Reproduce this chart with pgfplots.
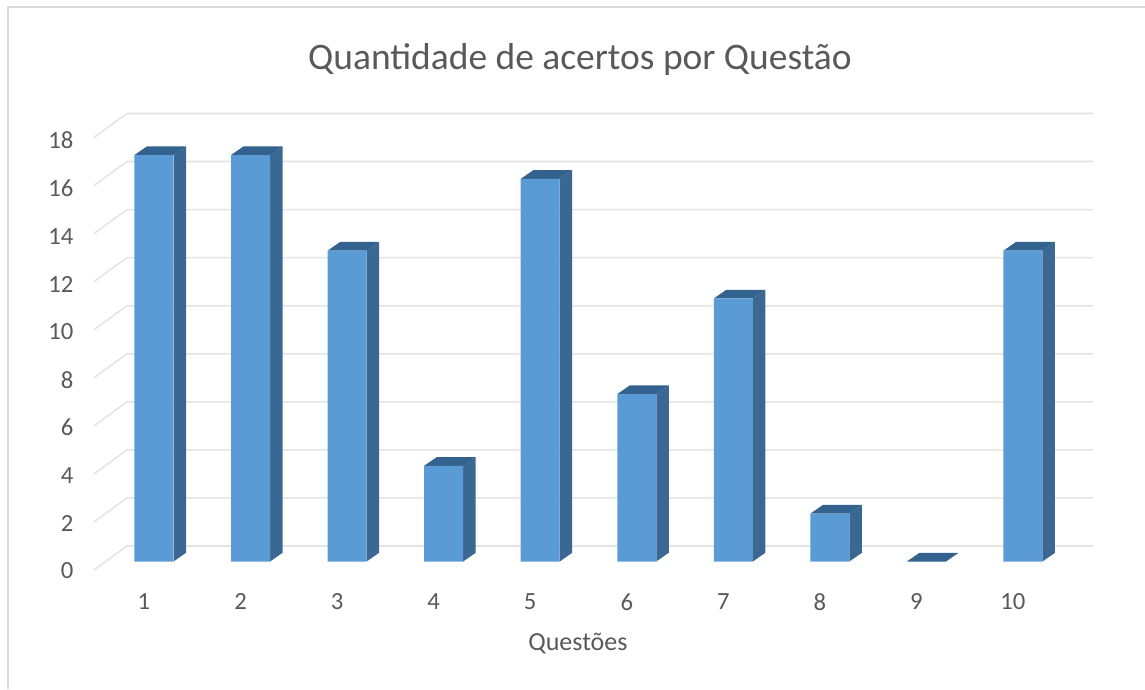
\documentclass[border=0pt]{standalone}
\usepackage{fontspec}
\setmainfont{Carlito}
\usepackage{pgfplots}
\usepackage{pgfplotstable}
\pgfplotsset{compat=1.18}
\definecolor{front}{HTML}{5B9BD5}
\definecolor{sideface}{HTML}{3A6892}
\definecolor{topface}{HTML}{34628F}
\definecolor{gridc}{HTML}{E4E4E4}
\definecolor{textc}{HTML}{595959}
\definecolor{framec}{HTML}{D9D9D9}
\pgfplotstableread{
q v
1 17
2 17
3 13
4 4
5 16
6 7
7 11
8 2
9 0
10 13
}\scores
% depth of a 3-D bar: side face and top face of the bar at x=#1 with value #2
\newcommand\BarDepth[2]{%
  \pgfmathsetmacro\xa{#1+0.202}%
  \pgfmathsetmacro\xb{#1+0.202+0.1295}%
  \pgfmathsetmacro\xc{#1-0.202}%
  \pgfmathsetmacro\xd{#1-0.202+0.1295}%
  \pgfmathsetmacro\yb{0.364}%
  \pgfmathsetmacro\yt{#2+0.364}%
  \edef\temp{\noexpand\addplot[fill=sideface,draw=none,forget plot] coordinates {(\xa,0)(\xb,\yb)(\xb,\yt)(\xa,#2)};
    \noexpand\addplot[fill=topface,draw=none,forget plot] coordinates {(\xc,#2)(\xa,#2)(\xb,\yt)(\xd,\yt)};}%
  \temp
}
% wall gridline for the tick value #1
\newcommand\WallLine[1]{%
  \pgfmathsetmacro\yf{1.005*#1-0.3555}%
  \pgfmathsetmacro\yk{1.005*#1+0.648}%
  \edef\temp{\noexpand\addplot[gridc,line width=1.2pt,forget plot] coordinates {(0.3786,\yf)(0.7204,\yk)(10.7255,\yk)};}%
  \temp
}
\begin{document}
\begin{tikzpicture}[x=0.75pt,y=0.75pt]
\path[use as bounding box] (0,0) rectangle (1145,689);
\draw[framec,line width=1pt] (8,0) -- (8,682) -- (1145,682);
\begin{axis}[
  at={(70.5pt,89.25pt)},anchor=south west,
  scale only axis,width=754.5pt,height=345pt,
  xmin=0.3786,xmax=10.798,ymin=-0.3555,ymax=18.883,
  clip=false,
  axis line style={draw=none},
  major tick length=0pt,
  xtick={1,...,10},
  ytick={0,2,...,18},
  /pgf/number format/assume math mode=true,
  tick label style={font=\fontsize{18.5pt}{20pt}\selectfont,text=textc},
  xticklabel style={xshift=-7.5pt,yshift=-14pt},
  yticklabel style={xshift=-12pt,yshift=-7.1pt},
  title={Quantidade de acertos por Questão},
  title style={at={(axis description cs:0.483,1.0915)},anchor=center,font=\fontsize{28.1pt}{30pt}\selectfont,text=textc},
  xlabel={Questões},
  xlabel style={at={(axis description cs:0.481,-0.16)},anchor=center,font=\fontsize{19.5pt}{21pt}\selectfont,text=textc},
]
\WallLine{0}\WallLine{2}\WallLine{4}\WallLine{6}\WallLine{8}
\WallLine{10}\WallLine{12}\WallLine{14}\WallLine{16}\WallLine{18}
\BarDepth{1}{17}\BarDepth{2}{17}\BarDepth{3}{13}\BarDepth{4}{4}\BarDepth{5}{16}
\BarDepth{6}{7}\BarDepth{7}{11}\BarDepth{8}{2}\BarDepth{9}{0}\BarDepth{10}{13}
\addplot[ybar,bar width=29.25pt,fill=front,draw=none] table[x=q,y=v] {\scores};
\end{axis}
\end{tikzpicture}
\end{document}
